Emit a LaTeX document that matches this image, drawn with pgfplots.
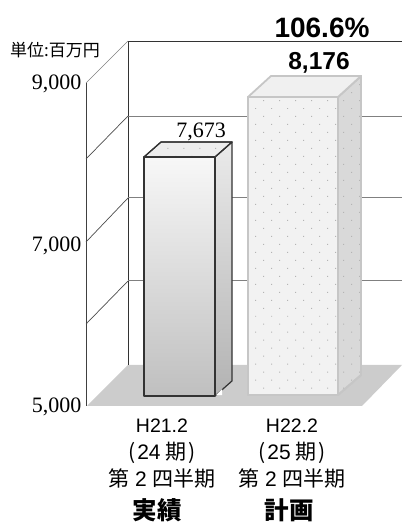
\documentclass[border=0pt]{standalone}
\usepackage{fontspec}
\usepackage{pgfplots}
\pgfplotsset{compat=1.18}
\usetikzlibrary{patterns.meta}
\newfontfamily\ar{Liberation Sans}
\newfontfamily\se{Liberation Serif}
\newfontfamily\cjk{Noto Sans CJK JP}
\definecolor{floorgray}{HTML}{CCCCCC}
\definecolor{gridgray}{HTML}{808080}
\definecolor{dotgray}{HTML}{B4B4B4}
\definecolor{edge2}{HTML}{C6C6C6}
\tikzset{dotted face/.style={postaction={pattern={Dots[distance=11.3pt,angle=45,radius=0.7pt]},pattern color=dotgray}}}
\newcommand{\ki}[1]{{\cjk (\hspace{2pt}{\ar #1}\hspace{5pt}期\hspace{2pt})}}
\newcommand{\shihan}{{\cjk 第\hspace{6pt}{\ar 2}\hspace{6pt}四半期}}
\begin{document}
\begin{tikzpicture}[x=1pt,y=1pt]
\path[use as bounding box] (0,0) rectangle (402,524);
\begin{axis}[
  at={(86pt,118pt)},anchor=south west,
  scale only axis,width=316pt,height=323pt,
  xmin=86,xmax=402,ymin=5000,ymax=9000,
  clip=false,
  axis x line=none,
  axis y line=left,
  axis line style={-,color=black!75,line width=0.7pt},
  ytick={5000,7000,9000},
  major tick length=0pt,
  yticklabel style={font=\se\fontsize{22}{22}\selectfont,xshift=-1pt,yshift=-1pt},
  /pgf/number format/assume math mode=true,
  /pgf/number format/1000 sep={,},
]
% floor
\addplot[fill=floorgray,draw=none] coordinates {(87,5000) (128,5508) (402,5508) (362,5000)} --cycle;
% back wall
\addplot[black!80,line width=0.7pt] coordinates {(128,5508) (128,9520) (402,9520)};
\addplot[gridgray,line width=1pt] coordinates {(128,8591) (402,8591)};
\addplot[gridgray,line width=1pt] coordinates {(128,7576) (402,7576)};
\addplot[gridgray,line width=1pt] coordinates {(128,6548) (402,6548)};
% side wall
\addplot[gray,line width=0.5pt] coordinates {(86,9000) (128,9520)};
\addplot[black!70,line width=0.7pt] coordinates {(86,8059) (128,8591)};
\addplot[black!70,line width=0.7pt] coordinates {(86,7031) (128,7576)};
\addplot[black!70,line width=0.7pt] coordinates {(86,6015) (128,6548)};
% bar 1, 7,673
\addplot[draw=black!80,line width=1.2pt,line join=round,top color=white!92!black,bottom color=black!30] coordinates {(215,5124) (215,8084) (232,8269) (232,5310)} --cycle;
\addplot[fill=white,draw=none] coordinates {(216,5136) (222,5210) (222,5136)} --cycle;
\addplot[draw=black!80,line width=1.2pt,line join=round,fill=white!93!black,dotted face] coordinates {(144,8084) (161,8269) (232,8269) (215,8084)} --cycle;
\addplot[draw=black!80,line width=1.2pt,line join=round,top color=white!97!black,bottom color=black!25] coordinates {(144,5124) (144,8084) (215,8084) (215,5124)} --cycle;
% bar 2, 8,176
\addplot[draw=edge2,line width=1.8pt,line join=round,fill=black!15,dotted face] coordinates {(338,5136) (338,8827) (361,9087) (361,5384)} --cycle;
\addplot[draw=edge2,line width=1.8pt,line join=round,fill=black!6] coordinates {(248,8827) (271,9087) (361,9087) (338,8827)} --cycle;
\addplot[draw=edge2,line width=1.8pt,line join=round,fill=black!5,dotted face] coordinates {(248,5136) (248,8827) (338,8827) (338,5136)} --cycle;
% labels
\node[font=\se\fontsize{22}{22}\selectfont] at (axis cs:201,8395) {7,673};
\node[font=\ar\bfseries\fontsize{24.5}{24.5}\selectfont] at (axis cs:319,9250) {8,176};
\node[font=\ar\bfseries\fontsize{28}{28}\selectfont] at (axis cs:322,9680) {106.6\%};
\node[font=\cjk\fontsize{17}{17}\selectfont] at (axis cs:55,9410) {単位:百万円};
\node[font=\ar\fontsize{19.5}{19.5}\selectfont] at (axis cs:162,4752) {H21.2};
\node[font=\ar\fontsize{19.5}{19.5}\selectfont] at (axis cs:292,4752) {H22.2};
\node[font=\fontsize{21}{21}\selectfont] at (axis cs:162,4418) {\ki{24}};
\node[font=\fontsize{21}{21}\selectfont] at (axis cs:292,4418) {\ki{25}};
\node[font=\fontsize{21}{21}\selectfont] at (axis cs:162,4108) {\shihan};
\node[font=\fontsize{21}{21}\selectfont] at (axis cs:292,4108) {\shihan};
\node[font=\cjk\bfseries\fontsize{24.5}{24.5}\selectfont] at (axis cs:157,3705) {実績};
\node[font=\cjk\bfseries\fontsize{24.5}{24.5}\selectfont] at (axis cs:289,3705) {計画};
\end{axis}
\end{tikzpicture}
\end{document}
